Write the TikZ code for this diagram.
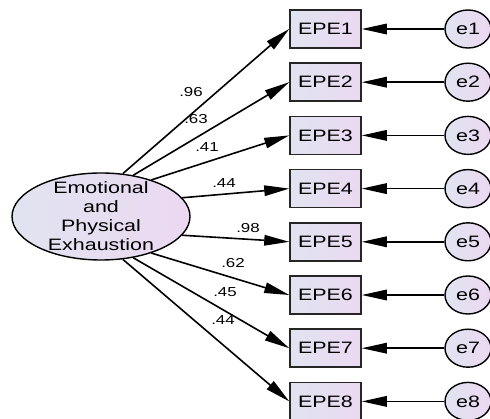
\documentclass[tikz,border=0pt]{standalone}
\usepackage{fontspec}
\setmainfont[FakeStretch=1.3]{Liberation Sans}
\usepackage{xcolor}
\usepackage{tikz}
\usetikzlibrary{shapes.geometric, arrows.meta}

\definecolor{shadeleft}{RGB}{224,228,240}
\definecolor{shaderight}{RGB}{236,216,242}

\tikzset{
  latent/.style={ellipse, draw=black, line width=1.4pt, left color=shadeleft, right color=shaderight,
    minimum width=178pt, minimum height=87pt, inner sep=0pt},
  observed/.style={rectangle, draw=black!85, line width=1.5pt, left color=shadeleft, right color=shaderight,
    minimum width=71pt, minimum height=38pt, inner sep=0pt, font=\fontsize{16.5}{19}\selectfont},
  errorterm/.style={ellipse, draw=black, line width=1.4pt, left color=shadeleft, right color=shaderight,
    minimum width=46pt, minimum height=38pt, inner sep=0pt, font=\fontsize{16.5}{19}\selectfont},
  loading/.style={line width=1.6pt, -{Triangle[length=25pt, width=10.5pt]}},
  weight/.style={inner sep=0pt, font=\fontsize{13}{15}\selectfont}
}

\begin{document}
\begin{tikzpicture}[x=1pt, y=-1pt]
      \useasboundingbox (0,0) rectangle (490,419);
      % factor
      \node[latent, label={[name=elltext, align=center, font=\fontsize{16.5}{19}\selectfont]center:Emotional\\and\\Physical\\Exhaustion}] (ell) at (101,216.5) {};
      % indicators
      \node[observed] (EPE1) at (325.5,29) {EPE1};
      \node[observed] (EPE2) at (325.5,82.2) {EPE2};
      \node[observed] (EPE3) at (325.5,135.4) {EPE3};
      \node[observed] (EPE4) at (325.5,188.6) {EPE4};
      \node[observed] (EPE5) at (325.5,241.8) {EPE5};
      \node[observed] (EPE6) at (325.5,295) {EPE6};
      \node[observed] (EPE7) at (325.5,348.2) {EPE7};
      \node[observed] (EPE8) at (325.5,401.4) {EPE8};
      % error terms
      \node[errorterm] (e1) at (468,29) {e1};
      \node[errorterm] (e2) at (468,82.2) {e2};
      \node[errorterm] (e3) at (468,135.4) {e3};
      \node[errorterm] (e4) at (468,188.6) {e4};
      \node[errorterm] (e5) at (468,241.8) {e5};
      \node[errorterm] (e6) at (468,295) {e6};
      \node[errorterm] (e7) at (468,348.2) {e7};
      \node[errorterm] (e8) at (468,401.4) {e8};
      % loadings
      \draw[loading] (ell.63) -- (EPE1.west);
      \draw[loading] (ell.52) -- (EPE2.west);
      \draw[loading] (ell.36) -- (EPE3.west);
      \draw[loading] (ell.13) -- (EPE4.west);
      \draw[loading] (ell.-13) -- (EPE5.west);
      \draw[loading] (ell.-36) -- (EPE6.west);
      \draw[loading] (ell.-52) -- (EPE7.west);
      \draw[loading] (ell.-63) -- (EPE8.west);
      \draw[loading] (e1) -- (EPE1);
      \draw[loading] (e2) -- (EPE2);
      \draw[loading] (e3) -- (EPE3);
      \draw[loading] (e4) -- (EPE4);
      \draw[loading] (e5) -- (EPE5);
      \draw[loading] (e6) -- (EPE6);
      \draw[loading] (e7) -- (EPE7);
      \draw[loading] (e8) -- (EPE8);
      % weights
      \node[weight] (w1) at (191,92) {.96};
      \node[weight] (w2) at (196,119) {.63};
      \node[weight] (w3) at (207,147) {.41};
      \node[weight] (w4) at (224,183) {.44};
      \node[weight] (w5) at (248,228) {.98};
      \node[weight] (w6) at (233,263) {.62};
      \node[weight] (w7) at (225,292) {.45};
      \node[weight] (w8) at (223,320) {.44};
\end{tikzpicture}
\end{document}
